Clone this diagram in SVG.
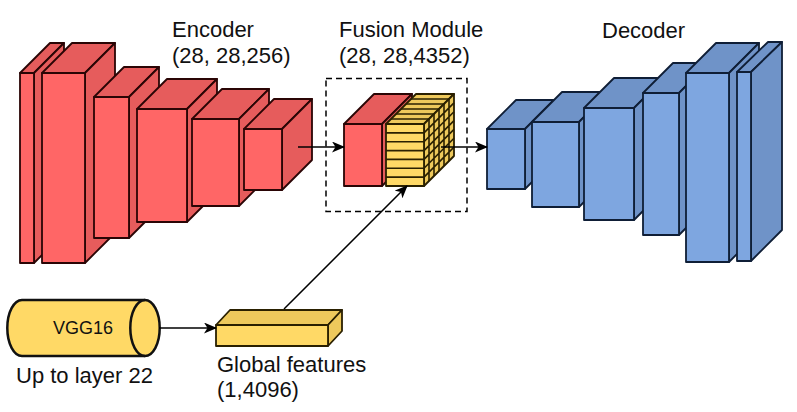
<svg xmlns="http://www.w3.org/2000/svg" width="797" height="412" viewBox="0 0 797 412">
<defs>
<style>
.t{font-family:"Liberation Sans",Arial,sans-serif;font-size:22px;fill:#111}
.rf{fill:#FF6666;stroke:#2a0505;stroke-width:1.8;stroke-linejoin:round}
.rs{fill:#E65C5C;stroke:#2a0505;stroke-width:1.8;stroke-linejoin:round}
.bf{fill:#7EA6E0;stroke:#0f1e36;stroke-width:1.8;stroke-linejoin:round}
.bs{fill:#6F93C8;stroke:#0f1e36;stroke-width:1.8;stroke-linejoin:round}
.yf{fill:#FFD966;stroke:#2a2000;stroke-width:1.8;stroke-linejoin:round}
.ys{fill:#EEC95C;stroke:#2a2000;stroke-width:1.8;stroke-linejoin:round}
.gl{stroke:#2a2000;stroke-width:1.6;fill:none}
.c{stroke:#000;stroke-width:1.5;fill:none}
</style>
<marker id="ah" viewBox="0 0 13 11" refX="12" refY="5.5" markerWidth="13" markerHeight="11" markerUnits="userSpaceOnUse" orient="auto">
<path d="M0,0 L13,5.5 L0,11 L3.5,5.5 Z" fill="#000"/>
</marker>
</defs>
<g id="encoder">
<g id="enc1"><polygon class="rs" points="20,73 50,43 64,43 34,73"/><polygon class="rs" points="34,73 64,43 64,233 34,263"/><rect class="rf" x="20" y="73" width="14" height="190"/></g>
<g id="enc2"><polygon class="rs" points="42,73 72,43 115,43 85,73"/><polygon class="rs" points="85,73 115,43 115,233 85,263"/><rect class="rf" x="42" y="73" width="43" height="190"/></g>
<g id="enc3"><polygon class="rs" points="94,97 124,67 159,67 129,97"/><polygon class="rs" points="129,97 159,67 159,208 129,238"/><rect class="rf" x="94" y="97" width="35" height="141"/></g>
<g id="enc4"><polygon class="rs" points="137,109 167,79 217,79 187,109"/><polygon class="rs" points="187,109 217,79 217,192 187,222"/><rect class="rf" x="137" y="109" width="50" height="113"/></g>
<g id="enc5"><polygon class="rs" points="192,119 222,89 269,89 239,119"/><polygon class="rs" points="239,119 269,89 269,176 239,206"/><rect class="rf" x="192" y="119" width="47" height="87"/></g>
<g id="enc6"><polygon class="rs" points="244,129 274,99 312,99 282,129"/><polygon class="rs" points="282,129 312,99 312,160 282,190"/><rect class="rf" x="244" y="129" width="38" height="61"/></g>
</g>
<g id="fusion">
<rect x="326" y="78.5" width="141" height="133" fill="none" stroke="#000" stroke-width="1.5" stroke-dasharray="6,4"/>
<g id="fus-red"><polygon class="rs" points="344,124 374,94 412,94 382,124"/><polygon class="rs" points="382,124 412,94 412,156 382,186"/><rect class="rf" x="344" y="124" width="38" height="62"/></g>
<g id="fus-yellow">
<polygon class="ys" points="386,124 416,94 454,94 424,124"/><polygon class="ys" points="424,124 454,94 454,156 424,186"/><rect class="yf" x="386" y="124" width="38" height="62"/>
<path class="gl" d="M391,119H429M396,114H434M401,109H439M406,104H444M411,99H449
M429,119V181M434,114V176M439,109V171M444,104V166M449,99V161
M386,132.9H424L454,102.9M386,141.7H424L454,111.7M386,150.6H424L454,120.6M386,159.4H424L454,129.4M386,168.3H424L454,138.3M386,177.1H424L454,147.1"/>
</g>
</g>
<g id="decoder">
<g id="dec1"><polygon class="bs" points="487,129 516,100 554,100 525,129"/><polygon class="bs" points="525,129 554,100 554,160 525,189"/><rect class="bf" x="487" y="129" width="38" height="60"/></g>
<g id="dec2"><polygon class="bs" points="532,122 562,92 609,92 579,122"/><polygon class="bs" points="579,122 609,92 609,177 579,207"/><rect class="bf" x="532" y="122" width="47" height="85"/></g>
<g id="dec3"><polygon class="bs" points="584,108 614,78 664,78 634,108"/><polygon class="bs" points="634,108 664,78 664,190 634,220"/><rect class="bf" x="584" y="108" width="50" height="112"/></g>
<g id="dec4"><polygon class="bs" points="643,93 673,63 709,63 679,93"/><polygon class="bs" points="679,93 709,63 709,205 679,235"/><rect class="bf" x="643" y="93" width="36" height="142"/></g>
<g id="dec5"><polygon class="bs" points="686,73 716,43 759,43 729,73"/><polygon class="bs" points="729,73 759,43 759,232 729,262"/><rect class="bf" x="686" y="73" width="43" height="189"/></g>
<g id="dec6"><polygon class="bs" points="737,72 768,42 782,42 751,72"/><polygon class="bs" points="751,72 782,42 782,230 751,261"/><rect class="bf" x="737" y="72" width="14" height="189"/></g>
</g>
<g id="vgg16">
<path d="M22,300H145A14.7,28 0 0 1 145,356H22A14.7,28 0 0 1 22,300Z" fill="#FFD966" stroke="#111" stroke-width="2.5"/>
<path d="M145,300A14.7,28 0 0 0 145,356" fill="none" stroke="#111" stroke-width="2.5"/>
<text class="t" x="83" y="334" text-anchor="middle" style="font-size:18px">VGG16</text>
</g>
<g id="global">
<polygon class="ys" points="216,325 230,310 342,310 328,325"/><polygon class="ys" points="328,325 342,310 342,331 328,346"/><rect class="yf" x="216" y="325" width="112" height="21"/>
</g>
<g id="connectors">
<line class="c" x1="298" y1="147" x2="344" y2="147" marker-end="url(#ah)"/>
<line class="c" x1="441" y1="147" x2="487" y2="147" marker-end="url(#ah)"/>
<line class="c" x1="159" y1="328" x2="216" y2="328" marker-end="url(#ah)"/>
<line class="c" x1="284" y1="309" x2="407" y2="186" marker-end="url(#ah)"/>
</g>
<g id="labels">
<text class="t" x="172" y="37">Encoder</text>
<text class="t" x="172" y="63">(28, 28,256)</text>
<text class="t" x="339" y="37">Fusion Module</text>
<text class="t" x="339" y="63">(28, 28,4352)</text>
<text class="t" x="602" y="38">Decoder</text>
<text class="t" x="16" y="383">Up to layer 22</text>
<text class="t" x="217" y="372">Global features</text>
<text class="t" x="217" y="397">(1,4096)</text>
</g>
</svg>
